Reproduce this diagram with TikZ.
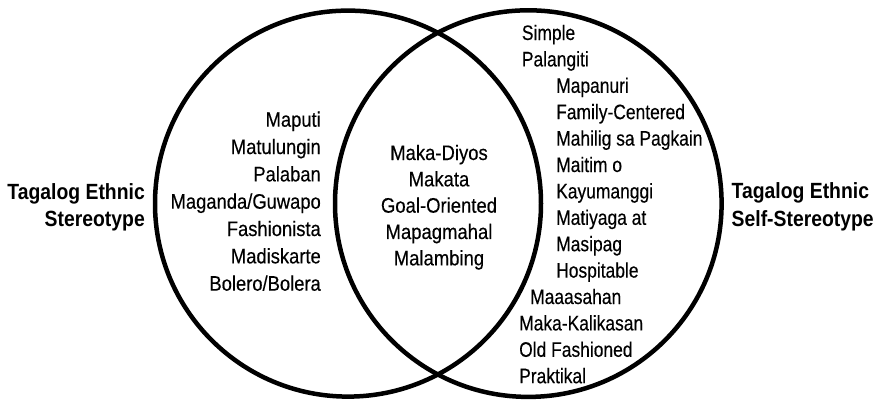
\documentclass[tikz,border=0pt]{standalone}
\usepackage{fontspec}
\setmainfont{Liberation Sans}
\newfontfamily\fleft{Liberation Sans}[FakeStretch=0.875,FakeBold=0.3]
\newfontfamily\fmid{Liberation Sans}[FakeStretch=0.88,FakeBold=0.3]
\newfontfamily\fright{Liberation Sans}[FakeStretch=0.83,FakeBold=0.3]
\newfontfamily\fbold{Liberation Sans}[FakeStretch=0.88]
\begin{document}
\begin{tikzpicture}[x=1pt,y=-1pt,
  ring/.style={circle,draw=black,line width=4.5pt,minimum size=386pt,inner sep=0pt},
  leftitem/.style={inner sep=0pt,anchor=base east,font=\fleft\fontsize{21}{25}\selectfont},
  miditem/.style={inner sep=0pt,anchor=base,font=\fmid\fontsize{21}{25}\selectfont},
  rightitem/.style={inner sep=0pt,anchor=base west,font=\fright\fontsize{21}{25}\selectfont},
  title/.style={inner sep=0pt,font=\fbold\bfseries\fontsize{22}{26}\selectfont}]
\useasboundingbox (0,0) rectangle (879,400);
\node[ring] (A) at (348,203.6) {};
\node[ring,minimum size=386.6pt] (B) at (528.3,203.6) {};
% titles
\node[title,anchor=base east] (TL1) at (145,199) {Tagalog Ethnic};
\node[title,anchor=base east] (TL2) at (145,226.5) {Stereotype};
\node[title,anchor=base west] (TR1) at (731.5,198.5) {Tagalog Ethnic};
\node[title,anchor=base west] (TR2) at (731.5,226) {Self-Stereotype};
% left list
\foreach \t [count=\i] in {Maputi,Matulungin,Palaban,Maganda/Guwapo,Fashionista,Madiskarte,Bolero/Bolera}
  \node[leftitem] (L\i) at (321,{126.7+(\i-1)*27.33}) {\t};
% middle list
\foreach \t [count=\i] in {Maka-Diyos,Makata,Goal-Oriented,Mapagmahal,Malambing}
  \node[miditem] (M\i) at (439,{160+(\i-1)*26.33}) {\t};
% right list
\foreach \t/\x [count=\i] in {Simple/521.7,Palangiti/521.7,Mapanuri/556,Family-Centered/556,Mahilig sa Pagkain/556,Maitim o/556,Kayumanggi/556,Matiyaga at/556,Masipag/556,Hospitable/556,Maaasahan/530,Maka-Kalikasan/519,Old Fashioned/519,Praktikal/519}
  \node[rightitem] (R\i) at (\x,{40+(\i-1)*26.4}) {\t};
\end{tikzpicture}
\end{document}
